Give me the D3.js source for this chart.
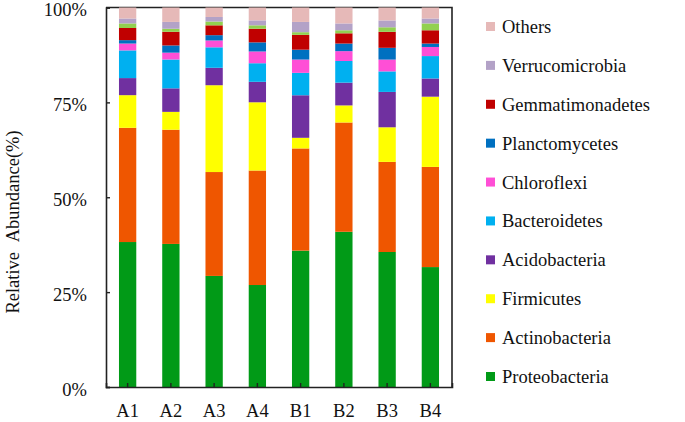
<!DOCTYPE html>
<html>
<head>
<meta charset="utf-8">
<script src="https://cdn.jsdelivr.net/npm/d3@7"></script>
</head>
<body style="margin:0">
<svg id="chart" width="685" height="422"></svg>
<script>
// ---------- data ----------
const categories = ["A1", "A2", "A3", "A4", "B1", "B2", "B3", "B4"];
const seriesNames = ["Proteobacteria", "Actinobacteria", "Firmicutes", "Acidobacteria", "Bacteroidetes",
                     "Chloroflexi", "Planctomycetes", "Gemmatimonadetes", "Nitrospirae", "Verrucomicrobia", "Others"];
const proteobacteria   = [38.2, 37.7, 29.3, 26.9, 35.9, 40.9, 35.5, 31.6];
const actinobacteria   = [30.1, 30.1, 27.4, 30.2, 26.9, 28.8, 23.7, 26.4];
const firmicutes       = [ 8.6,  4.7, 22.9, 18.0,  2.8,  4.5,  9.1, 18.5];
const acidobacteria    = [ 4.5,  6.2,  4.6,  5.4, 11.2,  6.0,  9.3,  4.8];
const bacteroidetes    = [ 7.3,  7.6,  5.4,  4.9,  5.9,  5.7,  5.4,  5.9];
const chloroflexi      = [ 1.8,  1.8,  1.8,  3.1,  3.5,  2.6,  3.1,  2.4];
const planctomycetes   = [ 0.9,  1.9,  1.4,  2.4,  2.6,  2.0,  3.1,  0.9];
const gemmatimonadetes = [ 3.2,  3.6,  2.6,  3.6,  3.9,  2.7,  4.2,  3.5];
const nitrospirae      = [ 1.2,  0.8,  1.0,  0.9,  0.7,  0.8,  1.2,  1.8];
const verrucomicrobia  = [ 1.3,  1.8,  1.2,  1.3,  2.7,  1.8,  1.8,  1.3];
const others           = [ 2.9,  3.8,  2.5,  3.4,  3.8,  4.2,  3.4,  2.9];
const yTicks = [0, 25, 50, 75, 100];
const legendOrder = ["Others", "Verrucomicrobia", "Gemmatimonadetes", "Planctomycetes", "Chloroflexi",
                     "Bacteroidetes", "Acidobacteria", "Firmicutes", "Actinobacteria", "Proteobacteria"];

// ---------- styling ----------
const colors = {
  Proteobacteria: "#019a17", Actinobacteria: "#ef5600", Firmicutes: "#ffff00", Acidobacteria: "#7030a0",
  Bacteroidetes: "#00b0f0", Chloroflexi: "#ff4fd6", Planctomycetes: "#0070c0", Gemmatimonadetes: "#c00000",
  Nitrospirae: "#92d050", Verrucomicrobia: "#b3a2c7", Others: "#e6b9b8"
};
const valueArrays = [proteobacteria, actinobacteria, firmicutes, acidobacteria, bacteroidetes, chloroflexi,
                     planctomycetes, gemmatimonadetes, nitrospirae, verrucomicrobia, others];

const table = categories.map((c, i) => {
  const row = { cat: c };
  seriesNames.forEach((s, j) => row[s] = valueArrays[j][i]);
  return row;
});

const FS = 18.5;

const svg = d3.select("#chart");
const pLeft = 106, pRight = 452, pTop = 7.5, pBottom = 387;

const x = d3.scaleBand().domain(categories).range([pLeft, pRight]).paddingInner(0.6).paddingOuter(0.3);
const y = d3.scaleLinear().domain([0, 100]).range([pBottom, pTop]);

const stack = d3.stack().keys(seriesNames).offset(d3.stackOffsetExpand);
const stacked = stack(table);

// frame (top & right), drawn beneath bars
svg.append("path")
  .attr("d", `M${pLeft},${pTop}H${pRight}V${pBottom}`)
  .attr("fill", "none").attr("stroke", "#222").attr("stroke-width", 1.6);

// bars
svg.append("g").selectAll("g").data(stacked).join("g")
  .attr("fill", d => colors[d.key])
  .selectAll("rect").data(d => d).join("rect")
  .attr("x", d => x(d.data.cat))
  .attr("width", x.bandwidth())
  .attr("y", d => y(d[1] * 100))
  .attr("height", d => y(d[0] * 100) - y(d[1] * 100));

function styleText(sel) {
  sel.attr("font-family", "Liberation Serif")
     .attr("font-size", FS)
     .attr("fill", "#111")
     .style("font-family", "'Liberation Serif', 'Times New Roman', serif")
     .style("font-size", FS + "px");
}

// axes
const yAxis = d3.axisLeft(y).tickValues(yTicks).tickSize(-4).tickPadding(19).tickFormat(d => d + "%");
const gy = svg.append("g").attr("transform", `translate(${pLeft},0)`).call(yAxis)
  .attr("font-family", "Liberation Serif").attr("font-size", FS);
gy.select(".domain").attr("stroke", "#222").attr("stroke-width", 1.6);
gy.selectAll(".tick line").attr("stroke", "#222").attr("stroke-width", 1.4);
gy.selectAll(".tick text").call(styleText).attr("dy", "0.45em");

const xAxis = d3.axisBottom(x).tickSize(-4).tickPadding(17);
const gx = svg.append("g").attr("transform", `translate(0,${pBottom})`).call(xAxis)
  .attr("font-family", "Liberation Serif").attr("font-size", FS);
gx.select(".domain").attr("stroke", "#222").attr("stroke-width", 1.6);
gx.selectAll(".tick line").attr("stroke", "#222").attr("stroke-width", 1.4);
gx.selectAll(".tick text").call(styleText);

// y title
svg.append("text")
  .attr("transform", "translate(19,222) rotate(-90)")
  .attr("text-anchor", "middle")
  .call(styleText)
  .attr("word-spacing", 6)
  .text("Relative Abundance(%)");

// legend
const legY = d3.scalePoint().domain(legendOrder).range([26.5, 376.5]);
const lg = svg.append("g").selectAll("g").data(legendOrder).join("g")
  .attr("transform", d => `translate(486,${legY(d)})`);
lg.append("rect").attr("x", 0).attr("y", -4.5).attr("width", 9).attr("height", 9)
  .attr("fill", d => colors[d]);
lg.append("text").attr("x", 16).attr("dy", "0.35em")
  .call(styleText)
  .text(d => d);
</script>
</body>
</html>
